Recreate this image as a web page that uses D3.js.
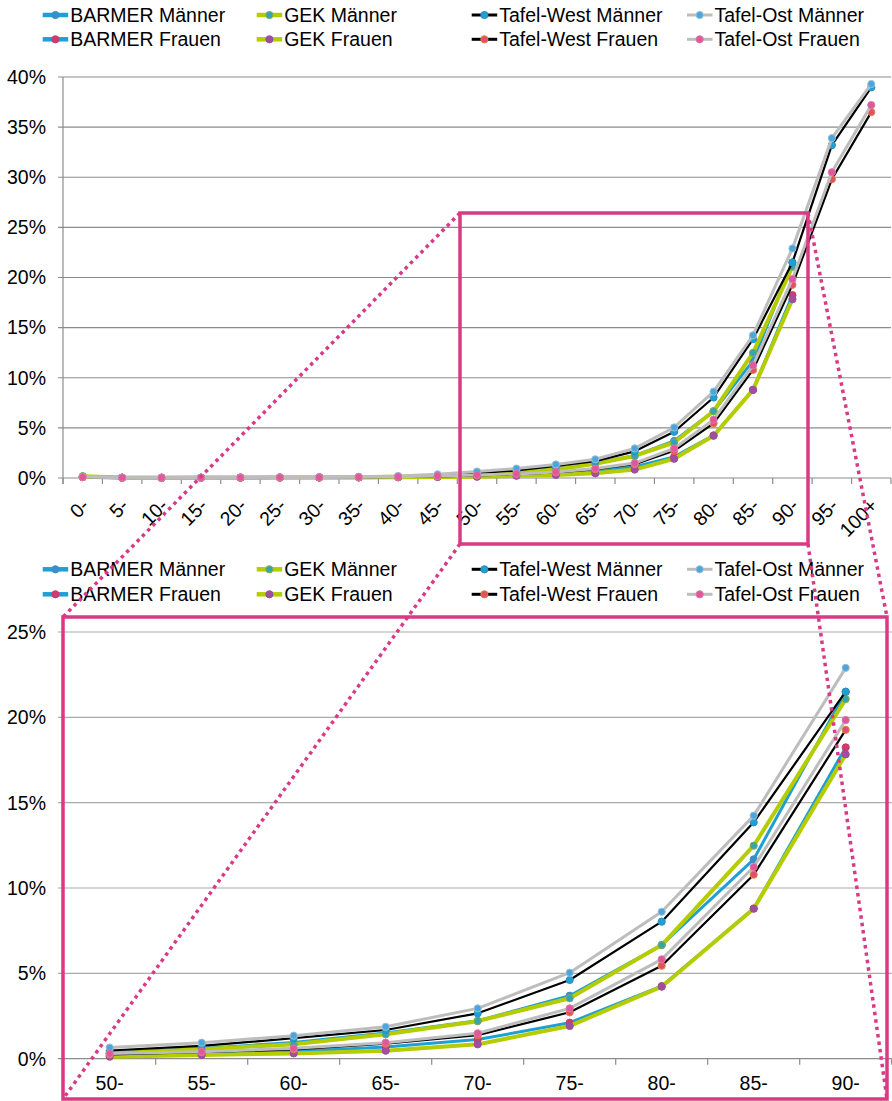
<!DOCTYPE html>
<html><head><meta charset="utf-8">
<script src="https://cdn.jsdelivr.net/npm/d3@7"></script>
<style>
body{margin:0;background:#fff}
svg{display:block}
text{font-family:"Liberation Sans",Arial,sans-serif;fill:#000}
</style>
</head><body>
<svg id="c" width="892" height="1101"></svg>
<script>
// ---------- data ----------
const categories = ["0-","5-","10-","15-","20-","25-","30-","35-","40-","45-","50-","55-","60-","65-","70-","75-","80-","85-","90-","95-","100+"];
const zoomCategories = ["50-","55-","60-","65-","70-","75-","80-","85-","90-"];
const yTicksTop = [0,5,10,15,20,25,30,35,40];
const yTicksBottom = [0,5,10,15,20,25];
const seriesNames = ["BARMER Männer","BARMER Frauen","GEK Männer","GEK Frauen","Tafel-West Männer","Tafel-West Frauen","Tafel-Ost Männer","Tafel-Ost Frauen"];
const barmerMaenner = [0.15,0.03,0.03,0.04,0.04,0.05,0.06,0.08,0.12,0.20,0.35,0.60,0.95,1.50,2.22,3.69,6.66,11.68,21.50,null,null];
const barmerFrauen  = [0.10,0.02,0.02,0.03,0.03,0.04,0.05,0.06,0.08,0.12,0.18,0.30,0.42,0.68,1.12,2.11,4.25,8.80,18.24,null,null];
const gekMaenner    = [0.18,0.04,0.03,0.04,0.04,0.05,0.06,0.08,0.12,0.19,0.30,0.55,0.85,1.43,2.20,3.54,6.66,12.48,21.07,null,null];
const gekFrauen     = [0.12,0.02,0.02,0.03,0.03,0.04,0.04,0.05,0.07,0.10,0.12,0.22,0.31,0.47,0.84,1.92,4.22,8.79,17.83,null,null];
const westMaenner   = [0.10,0.03,0.03,0.04,0.05,0.06,0.08,0.10,0.16,0.28,0.48,0.75,1.20,1.68,2.66,4.61,8.03,13.85,21.50,33.20,38.97];
const westFrauen    = [0.08,0.02,0.02,0.03,0.03,0.04,0.05,0.07,0.10,0.16,0.25,0.38,0.55,0.88,1.38,2.72,5.45,10.78,19.27,29.80,36.50];
const ostMaenner    = [0.12,0.04,0.04,0.05,0.06,0.07,0.09,0.12,0.20,0.37,0.65,0.94,1.35,1.87,2.95,5.04,8.61,14.24,22.90,33.90,39.30];
const ostFrauen     = [0.09,0.03,0.03,0.03,0.04,0.05,0.06,0.08,0.12,0.20,0.30,0.41,0.61,0.94,1.49,2.95,5.82,11.23,19.84,30.50,37.20];

// ---------- styles ----------
const seriesValues = [barmerMaenner,barmerFrauen,gekMaenner,gekFrauen,westMaenner,westFrauen,ostMaenner,ostFrauen];
const lineColors   = ["#1fa0d4","#1fa0d4","#b5cc00","#b5cc00","#000000","#000000","#bdbdbd","#bdbdbd"];
const lineWidths   = [3,3,4,4,2.2,2.2,3,3];
const legendWidths = [4.5,4.5,4.5,4.5,3,3,3,3];
const markerFills  = ["#3a8fcb","#d23a6e","#35a3b4","#a04ea0","#1fa0d2","#e0506a","#4aa6dc","#e2569a"];
const markerStroke = ["#3a8fcb","#c0406a","#7fb04a","#9a4e9c","#2b8fc0","#e8803a","#9fbfd4","#d77aa5"];
const pink = "#d93a85";
const FS = 19.5;

const svg = d3.select("#c");
const fmtPct = d => d + "%";

function series(i, cats) {
  return cats.map(c => ({c, v: seriesValues[i][categories.indexOf(c)]})).filter(d => d.v !== null);
}

function drawSeries(g, x, y, cats) {
  seriesValues.forEach((_, i) => {
    const data = series(i, cats);
    const line = d3.line().x(d => x(d.c) + x.bandwidth()/2).y(d => y(d.v));
    g.append("path").datum(data).attr("d", line)
      .attr("fill","none").attr("stroke", lineColors[i]).attr("stroke-width", lineWidths[i])
      .attr("stroke-linejoin","round");
    g.selectAll(null).data(data).join("circle")
      .attr("cx", d => x(d.c) + x.bandwidth()/2).attr("cy", d => y(d.v)).attr("r", 3.6)
      .attr("fill", markerFills[i]).attr("stroke", markerStroke[i]).attr("stroke-width", 1);
  });
}

function drawLegend(rowY) {
  const colX = [42.7, 256.7, 471.7, 687];
  const lg = svg.append("g");
  seriesNames.forEach((name, i) => {
    const col = Math.floor(i/2), row = i % 2;
    const x0 = colX[col], yy = rowY[row];
    lg.append("line").attr("x1", x0).attr("x2", x0+25.5).attr("y1", yy).attr("y2", yy)
      .attr("stroke", lineColors[i]).attr("stroke-width", legendWidths[i]);
    lg.append("circle").attr("cx", x0+12.7).attr("cy", yy).attr("r", 3.6)
      .attr("fill", markerFills[i]).attr("stroke", markerStroke[i]).attr("stroke-width", 1);
    lg.append("text").attr("x", x0+27.5).attr("y", yy).attr("dy","0.35em")
      .attr("font-size", FS).text(name);
  });
}

// ---------- top chart ----------
const xTop = d3.scaleBand().domain(categories).range([63, 891]);
const yTop = d3.scaleLinear().domain([0, 40]).range([478, 77]);
const gTop = svg.append("g");
gTop.selectAll(null).data(yTicksTop).join("line")
  .attr("x1", 58).attr("x2", 891).attr("y1", d => yTop(d)).attr("y2", d => yTop(d))
  .attr("stroke", "#8c8c8c").attr("stroke-width", 1.2);
gTop.append("line").attr("x1",63).attr("x2",63).attr("y1",yTop(40)).attr("y2",yTop(0)+6)
  .attr("stroke","#8c8c8c").attr("stroke-width",1.2);
gTop.selectAll(null).data(categories.concat(["end"])).join("line")
  .attr("x1", d => d === "end" ? 891 : xTop(d)).attr("x2", d => d === "end" ? 891 : xTop(d))
  .attr("y1", yTop(0)).attr("y2", yTop(0)+6).attr("stroke","#8c8c8c").attr("stroke-width",1.2);
gTop.selectAll(null).data(yTicksTop).join("text")
  .attr("x", 46).attr("y", d => yTop(d)).attr("dy","0.35em").attr("text-anchor","end")
  .attr("font-size", FS).text(fmtPct);
gTop.selectAll(null).data(categories).join("text")
  .attr("transform", d => `translate(${xTop(d)+xTop.bandwidth()/2+7.5},${yTop(0)+29}) rotate(-45)`)
  .attr("text-anchor","end").attr("font-size", FS).text(d => d);
drawSeries(gTop, xTop, yTop, categories);

drawLegend([15, 39.3]);

// ---------- bottom chart ----------
const xBot = d3.scaleBand().domain(zoomCategories).range([63.7, 891.7]);
const yBot = d3.scaleLinear().domain([0, 25]).range([1058.7, 632]);
const gBot = svg.append("g");
gBot.selectAll(null).data(yTicksBottom).join("line")
  .attr("x1", 58).attr("x2", 891.7).attr("y1", d => yBot(d)).attr("y2", d => yBot(d))
  .attr("stroke", d => d === 0 ? "#8c8c8c" : "#ababab").attr("stroke-width", 1.2);
gBot.selectAll(null).data(zoomCategories.slice(1).concat(["end"])).join("line")
  .attr("x1", d => d === "end" ? 891.7 : xBot(d)).attr("x2", d => d === "end" ? 891.7 : xBot(d))
  .attr("y1", yBot(0)).attr("y2", yBot(0)+6).attr("stroke","#8c8c8c").attr("stroke-width",1.2);
gBot.selectAll(null).data(yTicksBottom).join("text")
  .attr("x", 46).attr("y", d => yBot(d)).attr("dy","0.35em").attr("text-anchor","end")
  .attr("font-size", FS).text(fmtPct);
gBot.selectAll(null).data(zoomCategories).join("text")
  .attr("x", d => xBot(d)+xBot.bandwidth()/2).attr("y", 1089.5).attr("text-anchor","middle")
  .attr("font-size", FS).text(d => d);
drawSeries(gBot, xBot, yBot, zoomCategories);

drawLegend([569.3, 594.3]);

// ---------- zoom frames ----------
const topBox = {x1: 460, y1: 213, x2: 808, y2: 544};
const botBox = {x1: 63, y1: 617, x2: 887, y2: 1099};
const gz = svg.append("g");
[[topBox.x1, topBox.y1, botBox.x1, botBox.y1],
 [topBox.x1, topBox.y2, botBox.x1, botBox.y2],
 [topBox.x2, topBox.y1, botBox.x2, botBox.y1],
 [topBox.x2, topBox.y2, botBox.x2, botBox.y2]].forEach(([a,b,c,d]) => {
  gz.append("line").attr("x1",a).attr("y1",b).attr("x2",c).attr("y2",d)
    .attr("stroke", pink).attr("stroke-width", 3.5).attr("stroke-dasharray","3.5 4");
});
[topBox, botBox].forEach(b => {
  gz.append("rect").attr("x", b.x1).attr("y", b.y1).attr("width", b.x2-b.x1).attr("height", b.y2-b.y1)
    .attr("fill","none").attr("stroke", pink).attr("stroke-width", 3.5);
});
</script>
</body></html>
